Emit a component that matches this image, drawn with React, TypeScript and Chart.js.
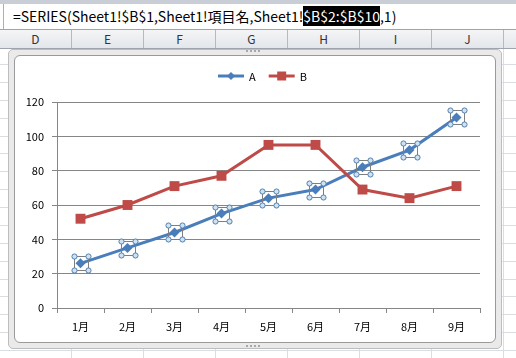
import React, { useEffect, useRef } from "react";
import { Chart, registerables } from "chart.js";

Chart.register(...registerables);

// ---- data ----
const categories = ["1月", "2月", "3月", "4月", "5月", "6月", "7月", "8月", "9月"];
const seriesNames = ["A", "B"];
const seriesA = [26, 35, 44, 55, 64, 69, 82, 92, 111];
const seriesB = [52, 60, 71, 77, 95, 95, 69, 64, 71];
const yTicks = [0, 20, 40, 60, 80, 100, 120];
const columnLetters = ["D", "E", "F", "G", "H", "I", "J"];
const formulaPrefix = "=SERIES(Sheet1!$B$1,Sheet1!項目名,Sheet1!";
const formulaSelected = "$B$2:$B$10";
const formulaSuffix = ",1)";

const FONT = '"Noto Sans CJK JP", "Noto Sans", sans-serif';
const BLUE = "#4A7EBB";
const RED = "#BE4B48";
const GRID = "#868686";

const legendPlugin = {
  id: "excelLegend",
  afterDraw(chart: any) {
    const ctx = chart.ctx;
    const ca = chart.chartArea;
    const y = 21;
    ctx.save();
    ctx.font = `11px ${FONT}`;
    ctx.textBaseline = "middle";
    const lineW = 26;
    const gap = 5;
    const itemGap = 13;
    const items = chart.data.datasets.map((ds: any) => ({
      label: ds.label,
      color: ds.borderColor,
      style: ds.pointStyle,
      w: ctx.measureText(ds.label).width,
    }));
    let total = 0;
    items.forEach((it: any, i: number) => {
      total += lineW + gap + it.w + (i < items.length - 1 ? itemGap : 0);
    });
    let x = Math.round((ca.left + ca.right) / 2 - 6 - total / 2);
    items.forEach((it: any) => {
      ctx.strokeStyle = it.color;
      ctx.fillStyle = it.color;
      ctx.lineWidth = 3;
      ctx.beginPath();
      ctx.moveTo(x, y);
      ctx.lineTo(x + lineW, y);
      ctx.stroke();
      const cx = x + lineW / 2;
      ctx.beginPath();
      if (it.style === "rectRot") {
        const r = 4;
        ctx.moveTo(cx, y - r);
        ctx.lineTo(cx + r, y);
        ctx.lineTo(cx, y + r);
        ctx.lineTo(cx - r, y);
        ctx.closePath();
      } else {
        ctx.rect(cx - 4.5, y - 4.5, 9, 9);
      }
      ctx.fill();
      ctx.fillStyle = "#000";
      ctx.textAlign = "left";
      ctx.fillText(it.label, x + lineW + gap, y + 0.5);
      x += lineW + gap + it.w + itemGap;
    });
    ctx.restore();
  },
};

const handlesPlugin = {
  id: "selectionHandles",
  afterDatasetsDraw(chart: any) {
    const meta = chart.getDatasetMeta(0);
    const ctx = chart.ctx;
    ctx.save();
    meta.data.forEach((pt: any) => {
      const px = Math.round(pt.x);
      const py = Math.round(pt.y);
      const h = 7;
      ctx.strokeStyle = "#7F7F7F";
      ctx.lineWidth = 1;
      ctx.strokeRect(px - h + 0.5, py - h + 0.5, 2 * h, 2 * h);
      const corners = [
        [px - h + 0.5, py - h + 0.5],
        [px + h + 0.5, py - h + 0.5],
        [px - h + 0.5, py + h + 0.5],
        [px + h + 0.5, py + h + 0.5],
      ];
      corners.forEach(([cx, cy]) => {
        ctx.beginPath();
        ctx.arc(cx, cy, 2.6, 0, Math.PI * 2);
        ctx.fillStyle = "#CFE2F3";
        ctx.fill();
        ctx.strokeStyle = "#4F7FAF";
        ctx.stroke();
      });
    });
    ctx.restore();
  },
};

function ChartCanvas() {
  const ref = useRef<HTMLCanvasElement | null>(null);
  useEffect(() => {
    if (!ref.current) return;
    const chart = new Chart(ref.current, {
      type: "line",
      data: {
        labels: categories,
        datasets: [
          {
            label: seriesNames[0],
            data: seriesA,
            borderColor: BLUE,
            backgroundColor: BLUE,
            borderWidth: 3,
            pointStyle: "rectRot",
            pointRadius: 5,
            pointBorderWidth: 0,
            pointBackgroundColor: BLUE,
            tension: 0,
            order: 1,
          },
          {
            label: seriesNames[1],
            data: seriesB,
            borderColor: RED,
            backgroundColor: RED,
            borderWidth: 3,
            pointStyle: "rect",
            pointRadius: 7,
            pointBorderWidth: 0,
            pointBackgroundColor: RED,
            tension: 0,
            order: 0,
          },
        ],
      },
      options: {
        animation: false,
        responsive: false,
        maintainAspectRatio: false,
        devicePixelRatio: 1,
        layout: { padding: { top: 47, right: 16, bottom: 0, left: 0 } },
        plugins: {
          legend: { display: false },
          tooltip: { enabled: false },
        },
        scales: {
          x: {
            offset: true,
            grid: {
              display: true,
              drawOnChartArea: false,
              drawTicks: true,
              tickLength: 5,
              color: GRID,
              offset: true,
            },
            border: { display: true, color: GRID, width: 1 },
            ticks: {
              color: "#000",
              font: { family: FONT, size: 11 },
              padding: 7,
              maxRotation: 0,
              autoSkip: false,
            },
            afterFit: (s: any) => {
              s.height = 35;
            },
          },
          y: {
            min: yTicks[0],
            max: yTicks[yTicks.length - 1],
            ticks: {
              stepSize: yTicks[1] - yTicks[0],
              color: "#000",
              font: { family: FONT, size: 11 },
              padding: 8,
            },
            grid: { color: GRID, tickLength: 5 },
            border: { display: true, color: GRID, width: 1 },
            afterFit: (s: any) => {
              s.width = 43;
            },
          },
        },
      },
      plugins: [handlesPlugin, legendPlugin],
    } as any);
    return () => chart.destroy();
  }, []);
  return (
    <canvas
      ref={ref}
      width={482}
      height={288}
      style={{ position: "absolute", left: 14, top: 55, width: 482, height: 288 }}
    />
  );
}

export default function App() {
  const rowLines: number[] = [];
  for (let k = 0; k < 17; k++) rowLines.push(Math.round(64 + k * 17.88));
  return (
    <div
      style={{
        position: "fixed",
        left: 0,
        top: 0,
        width: 516,
        height: 358,
        overflow: "hidden",
        background: "#fff",
        fontFamily: FONT,
      }}
    >
      {/* formula bar */}
      <div style={{ position: "absolute", left: 0, top: 0, width: 516, height: 4, background: "#C9CED6" }} />
      <div style={{ position: "absolute", left: 3, top: 4, width: 1, height: 25, background: "#A9B0BA" }} />
      <div
        style={{
          position: "absolute",
          left: 13,
          top: 4,
          height: 25,
          lineHeight: "25px",
          fontSize: 14,
          whiteSpace: "nowrap",
          color: "#000",
        }}
      >
        <span>{formulaPrefix}</span>
        <span style={{ background: "#000", color: "#fff" }}>{formulaSelected}</span>
        <span>{formulaSuffix}</span>
      </div>
      {/* column headers */}
      <div
        style={{
          position: "absolute",
          left: 0,
          top: 29,
          width: 516,
          height: 18,
          background: "linear-gradient(#F4F5F7, #E3E6EA)",
          borderTop: "1px solid #9DA4AE",
          borderBottom: "1px solid #9DA4AE",
        }}
      />
      {columnLetters.map((c, i) => (
        <div
          key={c}
          style={{
            position: "absolute",
            left: i * 72,
            top: 30,
            width: 71,
            height: 18,
            lineHeight: "18px",
            textAlign: "center",
            fontSize: 12,
            color: "#333",
            borderRight: "1px solid #B5BAC2",
          }}
        >
          {c}
        </div>
      ))}
      {/* sheet grid */}
      {columnLetters.map((c, i) => (
        <div
          key={"v" + c}
          style={{ position: "absolute", left: i * 72 + 71, top: 49, width: 1, height: 309, background: "#DADDE1" }}
        />
      ))}
      {rowLines.map((y) => (
        <div key={"h" + y} style={{ position: "absolute", left: 0, top: y, width: 516, height: 1, background: "#DADDE1" }} />
      ))}
      {/* chart frame */}
      <div
        style={{
          position: "absolute",
          left: 8,
          top: 49,
          width: 492,
          height: 298,
          background: "#EAEAEA",
          border: "1px solid #BDBDBD",
          borderRadius: 5,
        }}
      />
      <div
        style={{
          position: "absolute",
          left: 14,
          top: 55,
          width: 480,
          height: 286,
          background: "#fff",
          border: "1px solid #9A9A9A",
          borderRadius: 6,
        }}
      />
      <div style={{ position: "absolute", left: 246, top: 50, width: 14, height: 0, borderTop: "2px dotted #A8A8A8" }} />
      <div style={{ position: "absolute", left: 246, top: 345, width: 14, height: 0, borderTop: "2px dotted #A8A8A8" }} />
      <ChartCanvas />
    </div>
  );
}
